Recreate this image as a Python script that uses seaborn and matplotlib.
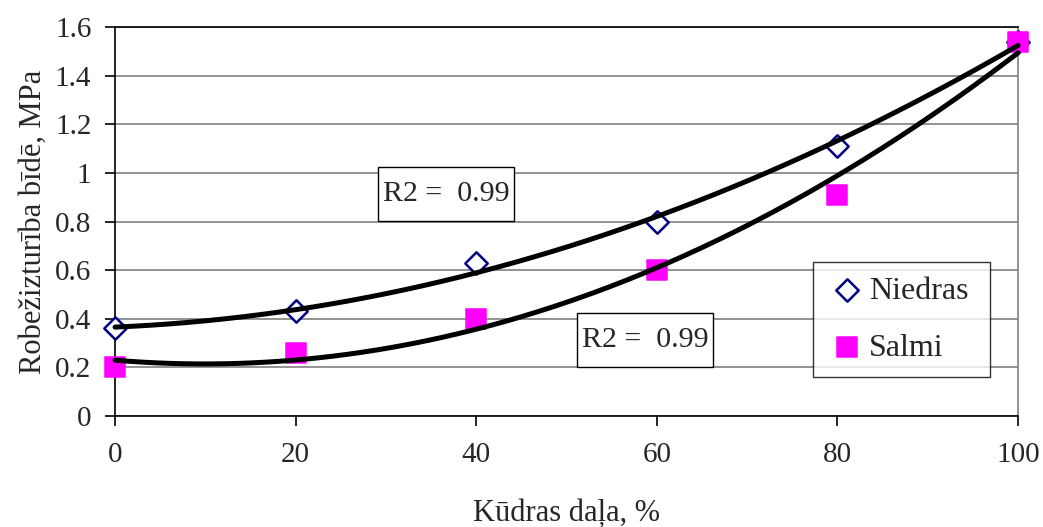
import matplotlib
matplotlib.use('Agg')
import matplotlib.pyplot as plt
from matplotlib.patches import Rectangle
import numpy as np
import pandas as pd
import seaborn as sns

# Data
kudras_dala = [0, 20, 40, 60, 80, 100]
niedras = [0.36, 0.43, 0.63, 0.80, 1.11, 1.54]
salmi = [0.20, 0.26, 0.40, 0.60, 0.91, 1.54]
y_ticks = [0, 0.2, 0.4, 0.6, 0.8, 1, 1.2, 1.4, 1.6]
y_tick_labels = ['0', '0.2', '0.4', '0.6', '0.8', '1', '1.2', '1.4', '1.6']
x_ticks = [0, 20, 40, 60, 80, 100]
r2_text = 'R2 =  0.99'

sns.set_style('white')
plt.rcParams['font.family'] = ['Liberation Serif', 'DejaVu Serif']

df = pd.DataFrame({
    'x': kudras_dala * 2,
    'y': niedras + salmi,
    'series': ['Niedras'] * 6 + ['Salmi'] * 6,
})

fig = plt.figure(figsize=(10.43, 5.27), dpi=100)
ax = fig.add_axes([0.1103, 0.2106, 0.8658, 0.7381])

# Second order polynomial trendlines
xs = np.linspace(0, 100, 200)
for vals in (niedras, salmi):
    coef = np.polyfit(kudras_dala, vals, 2)
    sns.lineplot(x=xs, y=np.polyval(coef, xs), color='black', lw=3.6,
                 ax=ax, zorder=5, clip_on=False)

# Points
sns.scatterplot(data=df[df.series == 'Niedras'], x='x', y='y', marker='D',
                s=130, facecolor='white', edgecolor='#000080', linewidth=1.8,
                ax=ax, zorder=4, clip_on=False, label='Niedras')
sns.scatterplot(data=df[df.series == 'Salmi'], x='x', y='y', marker='s',
                s=190, color='#FF00FF', edgecolor='#FF00FF',
                ax=ax, zorder=4, clip_on=False, label='Salmi')

ax.set_xlim(0, 100)
ax.set_ylim(0, 1.6)
ax.set_xticks(x_ticks)
ax.set_yticks(y_ticks)
ax.set_yticklabels(y_tick_labels)
ax.yaxis.grid(True, color='#808080', lw=1.2)
ax.set_axisbelow(True)

for side in ('left', 'bottom', 'top'):
    ax.spines[side].set_color('black')
    ax.spines[side].set_linewidth(1.2)
ax.spines['right'].set_color('#808080')
ax.spines['right'].set_linewidth(1.2)

ax.tick_params(axis='both', direction='out', length=7, width=1.2,
               color='black', labelsize=21, left=True, bottom=True)
ax.tick_params(axis='x', pad=12)
ax.tick_params(axis='y', pad=10)

ax.set_xlabel('Kūdras daļa, %', fontsize=22, labelpad=22)
ax.set_ylabel('Robežizturība bīdē, MPa', fontsize=22, labelpad=5)

# R2 boxes (axes fractions)
for x0, y0, w, h in [(0.291, 0.501, 0.151, 0.139), (0.512, 0.126, 0.150, 0.139)]:
    ax.add_patch(Rectangle((x0, y0), w, h, transform=ax.transAxes,
                           facecolor='white', edgecolor='black', lw=1,
                           zorder=6))
    ax.text(x0 + w / 2, y0 + h / 2, r2_text, transform=ax.transAxes,
            fontsize=21.5, ha='center', va='center', zorder=7)

leg = ax.legend(loc='lower left', bbox_to_anchor=(0.773, 0.1003, 0.196, 0.2956),
                mode='expand', borderaxespad=0, frameon=True, fancybox=False,
                fontsize=23, handletextpad=0.05, labelspacing=0.86,
                borderpad=0.45, handlelength=1.25)
leg.get_frame().set_edgecolor('black')
leg.get_frame().set_linewidth(1)
leg.set_zorder(8)

fig.savefig('out.png', dpi=100)
